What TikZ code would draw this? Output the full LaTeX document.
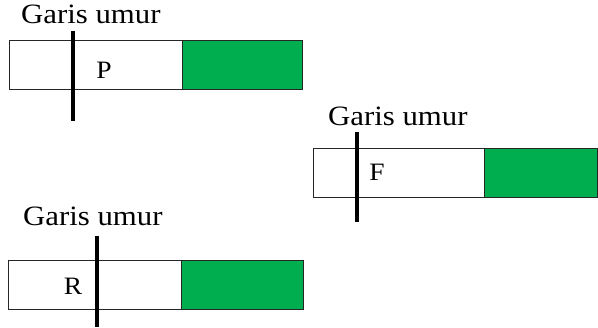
\documentclass[tikz,border=0pt]{standalone}
\usepackage{fontspec}
\setmainfont{Liberation Serif}[FakeStretch=1.1]
\definecolor{leafgreen}{RGB}{0,173,79}
\begin{document}
\begin{tikzpicture}[x=1pt,y=-1pt,
  cell/.style={draw=black!85, line width=0.9pt, minimum height=49pt, inner sep=0pt, anchor=north west},
  blank/.style={cell, fill=white},
  fillbar/.style={cell, fill=leafgreen},
  lifeline/.style={line width=3.6pt, line cap=butt},
  caption/.style={font=\fontsize{28}{32}\selectfont, anchor=base west, inner sep=0pt},
  letter/.style={font=\fontsize{25}{29}\selectfont, inner sep=0pt}]
  \useasboundingbox (0,0) rectangle (598,328);

  % first strip: P
  \node[blank, minimum width=172.7pt] (pw) at (9.3,40) {};
  \node[fillbar, minimum width=120pt] (pg) at (182,40) {};
  \node[caption] (pcap) at (21,24) {Garis umur};
  \node[letter] (pl) at (104,70) {P};
  \coordinate (pt) at (73,31);
  \coordinate (pb) at (73,121);
  \draw[lifeline] (pt) -- (pb);

  % second strip: F
  \node[blank, minimum width=171.3pt] (fw) at (312.7,148) {};
  \node[fillbar, minimum width=113pt] (fg) at (484,148) {};
  \node[caption] (fcap) at (328,126) {Garis umur};
  \node[letter] (fl) at (377,172) {F};
  \coordinate (ft) at (357,132);
  \coordinate (fb) at (357,222);
  \draw[lifeline] (ft) -- (fb);

  % third strip: R
  \node[blank, minimum width=173pt] (rw) at (8,260) {};
  \node[fillbar, minimum width=122pt] (rg) at (181,260) {};
  \node[caption] (rcap) at (23,226) {Garis umur};
  \node[letter] (rl) at (73,286) {R};
  \coordinate (rt) at (97,236);
  \coordinate (rb) at (97,327);
  \draw[lifeline] (rt) -- (rb);
\end{tikzpicture}
\end{document}
